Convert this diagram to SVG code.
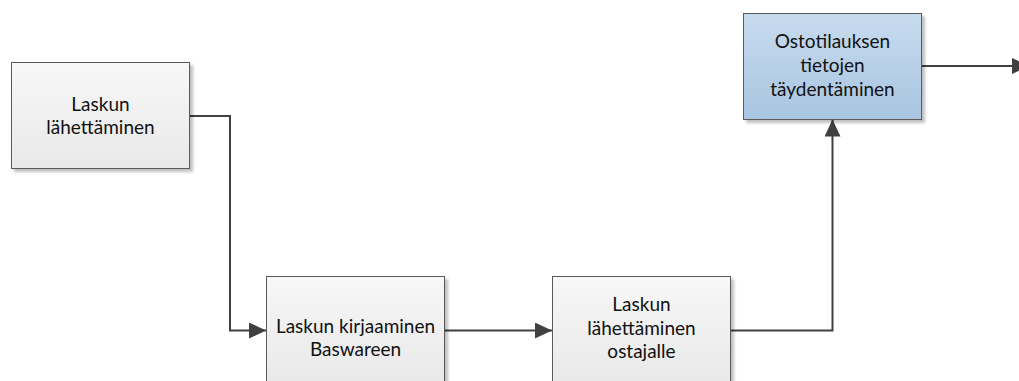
<svg xmlns="http://www.w3.org/2000/svg" width="1019" height="381" viewBox="0 0 1019 381">
  <defs>
    <linearGradient id="gGrey" x1="0" y1="0" x2="0" y2="1">
      <stop offset="0" stop-color="#f7f7f7"/>
      <stop offset="1" stop-color="#e9e9e9"/>
    </linearGradient>
    <linearGradient id="gBlue" x1="0" y1="0" x2="0" y2="1">
      <stop offset="0" stop-color="#c7dbee"/>
      <stop offset="1" stop-color="#a9c5e1"/>
    </linearGradient>
    <filter id="shadow" x="-10%" y="-10%" width="130%" height="130%">
      <feGaussianBlur in="SourceAlpha" stdDeviation="1.5"/>
      <feOffset dx="3" dy="3" result="b"/>
      <feComponentTransfer><feFuncA type="linear" slope="0.25"/></feComponentTransfer>
      <feMerge><feMergeNode/><feMergeNode in="SourceGraphic"/></feMerge>
    </filter>
    <marker id="arrow" viewBox="0 0 17 16" refX="17" refY="8" markerWidth="17" markerHeight="16" markerUnits="userSpaceOnUse" orient="auto">
      <path d="M0,0 L17,8 L0,16 Z" fill="#404040"/>
    </marker>
  </defs>
  <style>
    .box { stroke: #5a5a5a; stroke-width: 1; filter: url(#shadow); }
    .grey { fill: url(#gGrey); }
    .blue { fill: url(#gBlue); }
    .lbl { font-family: Lato, "Open Sans", "Liberation Sans", sans-serif; font-size: 19px; fill: #111111; text-anchor: middle; }
    .conn { fill: none; stroke: #404040; stroke-width: 2; marker-end: url(#arrow); }
  </style>

  <rect width="1019" height="381" fill="#ffffff"/>

  <g id="connectors">
    <path class="conn" d="M189.5,116 H230 V330.5 H266"/>
    <path class="conn" d="M445,330.5 H552"/>
    <path class="conn" d="M731,330.5 H832.5 V119.5"/>
    <path class="conn" d="M921.5,66 H1029"/>
  </g>

  <g id="node-laskun-lahettaminen">
    <rect class="box grey" x="11.5" y="62.5" width="178" height="106"/>
    <text class="lbl" x="100.5" y="111">Laskun</text>
    <text class="lbl" x="100.5" y="134">lähettäminen</text>
  </g>

  <g id="node-kirjaaminen">
    <rect class="box grey" x="266.5" y="276.5" width="178" height="106"/>
    <text class="lbl" x="355.5" y="333">Laskun kirjaaminen</text>
    <text class="lbl" x="355.5" y="356">Baswareen</text>
  </g>

  <g id="node-ostajalle">
    <rect class="box grey" x="552.5" y="276.5" width="178" height="106"/>
    <text class="lbl" x="641.5" y="311">Laskun</text>
    <text class="lbl" x="641.5" y="335">lähettäminen</text>
    <text class="lbl" x="641.5" y="358">ostajalle</text>
  </g>

  <g id="node-ostotilaus">
    <rect class="box blue" x="743.5" y="13.5" width="178" height="106"/>
    <text class="lbl" x="832.5" y="48">Ostotilauksen</text>
    <text class="lbl" x="832.5" y="72">tietojen</text>
    <text class="lbl" x="832.5" y="96">täydentäminen</text>
  </g>
</svg>
